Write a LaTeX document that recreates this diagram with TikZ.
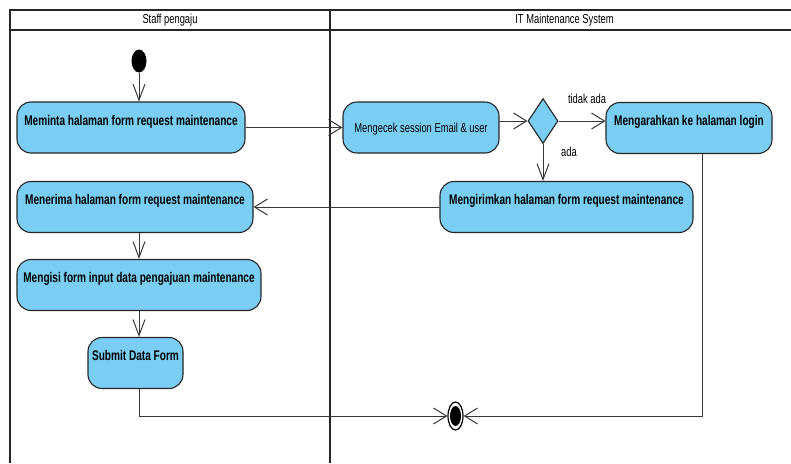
\documentclass[tikz,border=0pt]{standalone}
\usepackage{fontspec}
\setmainfont{Liberation Sans}[FakeStretch=0.72]
\usetikzlibrary{arrows.meta,shapes.geometric}

\definecolor{actblue}{RGB}{122,205,243}
\definecolor{flowgray}{RGB}{55,55,55}

\tikzset{every picture/.style={line width=1pt},
	lane/.style={draw=black!85, line width=1.8pt},
	lanetitle/.style={font=\fontsize{13}{15}\selectfont},
	act/.style={draw=black!85, fill=actblue, rounded corners=14pt, line width=1.1pt,
		inner xsep=3pt, inner ysep=0pt, align=center,
		font=\fontsize{14}{16}\selectfont\bfseries, text height=23pt, text depth=28pt},
	actplain/.style={act, font=\fontsize{13}{15}\selectfont, text height=30pt, text depth=21pt},
	decision/.style={draw=black!85, fill=actblue, diamond, line width=1.1pt, inner sep=0pt,
		minimum width=30pt, minimum height=45pt},
	initial/.style={ellipse, fill=black, inner sep=0pt, minimum width=15pt, minimum height=23pt},
	final/.style={ellipse, draw=black, line width=1.2pt, inner sep=0pt, minimum width=15pt, minimum height=28pt,
		path picture={\fill (path picture bounding box.center) ellipse [x radius=5.5pt, y radius=10pt];}},
	hflow/.style={draw=flowgray, -{Straight Barb[length=13pt,width=16pt]}},
	vflow/.style={draw=flowgray, -{Straight Barb[length=16pt,width=12pt]}},
	guard/.style={font=\fontsize{13}{15}\selectfont}
}

\begin{document}
\begin{tikzpicture}[x=1pt,y=1pt,yscale=-1,xscale=1]
	\useasboundingbox (0,0) rectangle (791,463);

	% Swimlanes
	\draw[lane] (10,463) -- (10,10) -- (791,10);
	\draw[lane] (10,30) -- (791,30);
	\draw[lane] (330,10) -- (330,463);
	\node[lanetitle] (laneStaff) at (170,20) {Staff pengaju};
	\node[lanetitle] (laneIT) at (564.5,20) {IT Maintenance System};

	% Activities
	\node[initial] (start) at (139,61) {};
	\node[act, minimum width=228pt] (mintaForm) at (131,127.5) {Meminta halaman form request maintenance};
	\node[actplain, minimum width=156pt] (cekSession) at (421,127.5) {Mengecek session Email \& user};
	\node[decision] (dec) at (543,121) {};
	\node[act, minimum width=166pt] (arahLogin) at (689,128) {Mengarahkan ke halaman login};
	\node[act, minimum width=253pt] (kirimForm) at (566.5,207) {Mengirimkan halaman form request maintenance};
	\node[act, minimum width=236pt] (terimaForm) at (135,207) {Menerima halaman form request maintenance};
	\node[act, minimum width=244pt] (isiForm) at (139,285) {Mengisi form input data pengajuan maintenance};
	\node[act, minimum width=95pt] (submit) at (135.5,363) {Submit Data Form};
	\node[final] (end) at (455.5,416) {};

	% Flows
	\draw[vflow] (start) -- (start |- mintaForm.north);
	\draw[hflow] (mintaForm) -- (cekSession);
	\draw[hflow] (cekSession.east |- dec) -- (dec);
	\draw[hflow] (dec) -- (dec -| arahLogin.west);
	\draw[vflow] (dec) -- (dec |- kirimForm.north);
	\draw[hflow] (kirimForm.west) -- (kirimForm.west -| terimaForm.east);
	\draw[vflow] (terimaForm.south -| start) -- (isiForm.north -| start);
	\draw[vflow] (isiForm.south -| start) -- (submit.north -| start);
	\draw[hflow] (submit.south -| start) |- (end);
	\draw[hflow] ([xshift=13pt]arahLogin.south) |- (end);

	% Guards
	\node[guard] (gTidak) at (587,99) {tidak ada};
	\node[guard] (gAda) at (569,152) {ada};

\end{tikzpicture}
\end{document}
